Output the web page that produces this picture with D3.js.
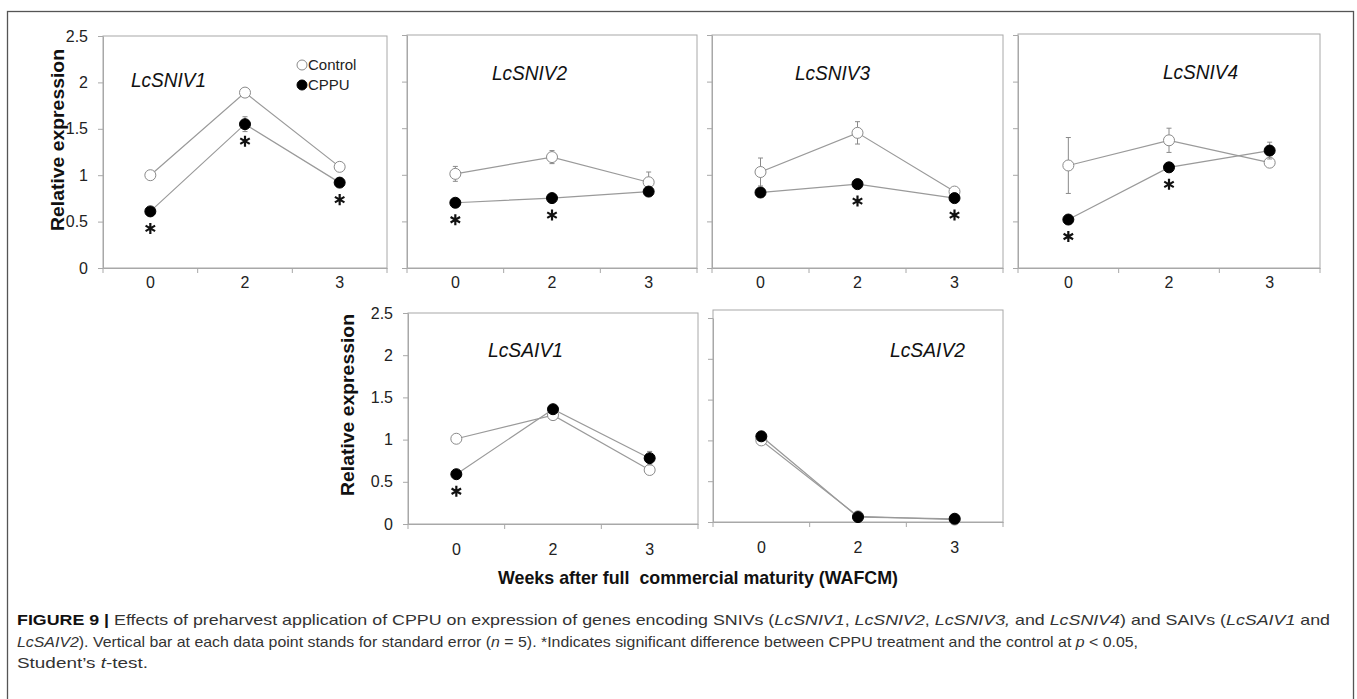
<!DOCTYPE html>
<html>
<head>
<meta charset="utf-8">
<script src="https://cdn.jsdelivr.net/npm/d3@7"></script>
<style>
  body { margin: 0; background: #fff; }
  svg { display: block; font-family: "Liberation Sans", Arial, sans-serif; }
</style>
</head>
<body>
<svg id="chart"></svg>
<script>
// data
var weeks = ["0", "2", "3"];
var genes = ["LcSNIV1", "LcSNIV2", "LcSNIV3", "LcSNIV4", "LcSAIV1", "LcSAIV2"];
var yTicks = [0, 0.5, 1, 1.5, 2, 2.5];

var controlMean = [
  [1.00, 1.89, 1.09],
  [1.01, 1.19, 0.92],
  [1.03, 1.45, 0.82],
  [1.10, 1.37, 1.13],
  [1.01, 1.29, 0.64],
  [1.00, 0.07, 0.03]
];
var controlSE = [
  [0.02, 0.03, 0.03],
  [0.08, 0.07, 0.11],
  [0.15, 0.12, 0.03],
  [0.30, 0.13, 0.03],
  [0.02, 0.03, 0.03],
  [0.03, 0.02, 0.01]
];
var cppuMean = [
  [0.61, 1.55, 0.92],
  [0.70, 0.75, 0.82],
  [0.81, 0.90, 0.75],
  [0.52, 1.08, 1.26],
  [0.59, 1.36, 0.78],
  [1.05, 0.06, 0.04]
];
var cppuSE = [
  [0.03, 0.08, 0.03],
  [0.03, 0.03, 0.03],
  [0.03, 0.03, 0.03],
  [0.03, 0.04, 0.09],
  [0.03, 0.03, 0.08],
  [0.03, 0.01, 0.01]
];
// 1 = asterisk under the CPPU point
var significant = [
  [1, 1, 1],
  [1, 1, 0],
  [0, 1, 1],
  [1, 1, 0],
  [1, 0, 0],
  [0, 0, 0]
];

var svgWidth = 1357, svgHeight = 699;
var gridColor = "#a8a8a8", lineColor = "#9a9a9a";

var svg = d3.select('#chart')
  .attr("width", svgWidth)
  .attr("height", svgHeight);

// outer frame of the figure
svg.append("rect")
  .attr("x", 7.5).attr("y", 11.5)
  .attr("width", 1346).attr("height", 720)
  .attr("fill", "none")
  .attr("stroke", "#555")
  .attr("stroke-width", 1.3);

// panel boxes (pixel layout)
var panels = [
  { left: 103, right: 387, top: 36, y0: 268, y25: 36, labels: true, title: [131, 87], legend: true },
  { left: 407, right: 697, top: 35, y0: 268, y25: 35, labels: false, title: [492, 80] },
  { left: 712, right: 1003, top: 35, y0: 268, y25: 35, labels: false, title: [795, 80] },
  { left: 1018, right: 1320, top: 34, y0: 268, y25: 35, labels: false, title: [1163, 79] },
  { left: 408, right: 698, top: 313, y0: 524, y25: 313, labels: true, title: [488, 357] },
  { left: 713, right: 1003, top: 310, y0: 522, y25: 318, labels: false, title: [890, 357] }
];

panels.forEach(function (p, i) {
  var g = svg.append("g");

  var x = d3.scaleBand()
    .domain(weeks)
    .range([p.left, p.right]);

  var y = d3.scaleLinear()
    .domain([0, 2.5])
    .range([p.y0, p.y25]);

  g.append("rect")
    .attr("x", p.left).attr("y", p.top)
    .attr("width", p.right - p.left)
    .attr("height", p.y0 - p.top)
    .attr("fill", "none")
    .attr("stroke", gridColor);

  var y_axis = d3.axisLeft(y)
    .tickValues(yTicks)
    .tickSize(5)
    .tickSizeOuter(0)
    .tickPadding(10)
    .tickFormat(p.labels ? function (d) { return d; } : "");

  var ya = g.append("g")
    .attr("transform", "translate(" + p.left + ",0)")
    .call(y_axis);

  var x_axis = d3.axisBottom(x)
    .tickSize(0)
    .tickSizeOuter(0)
    .tickPadding(i < 4 ? 9 : 20);

  var xa = g.append("g")
    .attr("transform", "translate(0," + p.y0 + ")")
    .call(x_axis);

  [ya, xa].forEach(function (a) {
    a.select(".domain").attr("stroke", gridColor);
    a.selectAll(".tick line").attr("stroke", gridColor);
    a.selectAll("text")
      .attr("font-family", "Liberation Sans, Arial, sans-serif")
      .attr("font-size", 16)
      .attr("fill", "#222");
  });

  // x ticks sit between the weeks, as in the spreadsheet original
  var edges = weeks.map(function (w) { return x(w); }).concat([x.range()[1]]);
  g.selectAll(".xedge")
    .data(edges)
    .enter()
    .append("line")
    .attr("x1", function (d) { return d; })
    .attr("x2", function (d) { return d; })
    .attr("y1", p.y0)
    .attr("y2", p.y0 + 5)
    .attr("stroke", gridColor);

  if (p.labels) {
    var cy = i === 0 ? 140 : 405;
    var cx = i === 0 ? 57 : 347;
    g.append("text")
      .text("Relative expression")
      .attr("transform", "translate(" + cx + "," + cy + ") rotate(-90)")
      .attr("text-anchor", "middle")
      .attr("dy", "0.35em")
      .attr("font-size", 19)
      .attr("font-weight", "bold")
      .attr("textLength", 182)
      .attr("lengthAdjust", "spacingAndGlyphs")
      .attr("fill", "#111");
  }

  g.append("text")
    .text(genes[i])
    .attr("x", p.title[0])
    .attr("y", p.title[1])
    .attr("font-size", 20)
    .attr("font-style", "italic")
    .attr("textLength", 75)
    .attr("lengthAdjust", "spacingAndGlyphs")
    .attr("fill", "#111");

  var half = x.bandwidth() / 2;
  var series = [
    { mean: controlMean[i], se: controlSE[i], fill: "#fff", stroke: "#8a8a8a" },
    { mean: cppuMean[i], se: cppuSE[i], fill: "#000", stroke: "#000" }
  ];

  series.forEach(function (s) {
    var pts = weeks.map(function (w, j) { return { w: w, v: s.mean[j], e: s.se[j] }; });

    // error bars
    g.selectAll(null)
      .data(pts)
      .enter()
      .append("path")
      .attr("d", function (d) {
        var cx = x(d.w) + half, hi = y(d.v + d.e), lo = y(Math.max(0, d.v - d.e));
        return "M" + (cx - 2.5) + "," + hi + "H" + (cx + 2.5) +
          "M" + cx + "," + hi + "V" + lo +
          "M" + (cx - 2.5) + "," + lo + "H" + (cx + 2.5);
      })
      .attr("fill", "none")
      .attr("stroke", "#8a8a8a");

    var line = d3.line()
      .x(function (d) { return x(d.w) + half; })
      .y(function (d) { return y(d.v); });

    g.append("path")
      .datum(pts)
      .attr("d", line)
      .attr("fill", "none")
      .attr("stroke", lineColor)
      .attr("stroke-width", 1.2);

    g.selectAll(null)
      .data(pts)
      .enter()
      .append("circle")
      .attr("cx", function (d) { return x(d.w) + half; })
      .attr("cy", function (d) { return y(d.v); })
      .attr("r", 5.5)
      .attr("fill", s.fill)
      .attr("stroke", s.stroke)
      .attr("stroke-width", 1);
  });

  // significance asterisks
  var star = d3.symbol().type(d3.symbolAsterisk).size(85);
  weeks.forEach(function (w, j) {
    if (!significant[i][j]) return;
    g.append("path")
      .attr("d", star)
      .attr("transform", "translate(" + (x(w) + half) + "," + (y(cppuMean[i][j]) + 17) + ")")
      .attr("fill", "none")
      .attr("stroke", "#111")
      .attr("stroke-width", 2.2);
  });

  if (p.legend) {
    var legend = [["Control", "#fff", "#8a8a8a"], ["CPPU", "#000", "#000"]];
    legend.forEach(function (l, k) {
      g.append("circle")
        .attr("cx", 302).attr("cy", 65 + k * 20)
        .attr("r", 5)
        .attr("fill", l[1]).attr("stroke", l[2]);
      g.append("text")
        .text(l[0])
        .attr("x", 308).attr("y", 70 + k * 20)
        .attr("font-size", 15)
        .attr("fill", "#222");
    });
  }
});

// shared x title
svg.append("text")
  .text("Weeks after full  commercial maturity (WAFCM)")
  .style("white-space", "pre")
  .attr("x", 698)
  .attr("y", 584)
  .attr("text-anchor", "middle")
  .attr("font-size", 19)
  .attr("font-weight", "bold")
  .attr("textLength", 400)
  .attr("lengthAdjust", "spacingAndGlyphs")
  .attr("fill", "#111");

// caption
var captionLines = [
  [["FIGURE 9 | ", "b"], ["Effects of preharvest application of CPPU on expression of genes encoding SNIVs (", ""],
   ["LcSNIV1", "i"], [", ", ""], ["LcSNIV2", "i"], [", ", ""], ["LcSNIV3,", "i"], [" and ", ""], ["LcSNIV4", "i"],
   [") and SAIVs (", ""], ["LcSAIV1", "i"], [" and", ""]],
  [["LcSAIV2", "i"], ["). Vertical bar at each data point stands for standard error (", ""], ["n", "i"],
   [" = 5). *Indicates significant difference between CPPU treatment and the control at ", ""], ["p", "i"], [" < 0.05,", ""]],
  [["Student\u2019s ", ""], ["t", "i"], ["-test.", ""]]
];
var captionWidths = [1313, 1121, 131];

captionLines.forEach(function (parts, k) {
  var t = svg.append("text")
    .attr("x", 17)
    .attr("y", 625 + k * 21.5)
    .attr("font-size", 15)
    .attr("fill", "#333")
    .style("white-space", "pre");
  if (captionWidths[k]) {
    t.attr("textLength", captionWidths[k]).attr("lengthAdjust", "spacingAndGlyphs");
  }
  t.selectAll("tspan")
    .data(parts)
    .enter()
    .append("tspan")
    .text(function (d) { return d[0]; })
    .attr("font-weight", function (d) { return d[1] === "b" ? "bold" : null; })
    .attr("font-style", function (d) { return d[1] === "i" ? "italic" : null; })
    .attr("fill", function (d) { return d[1] === "b" ? "#111" : null; });
});
</script>
</body>
</html>
